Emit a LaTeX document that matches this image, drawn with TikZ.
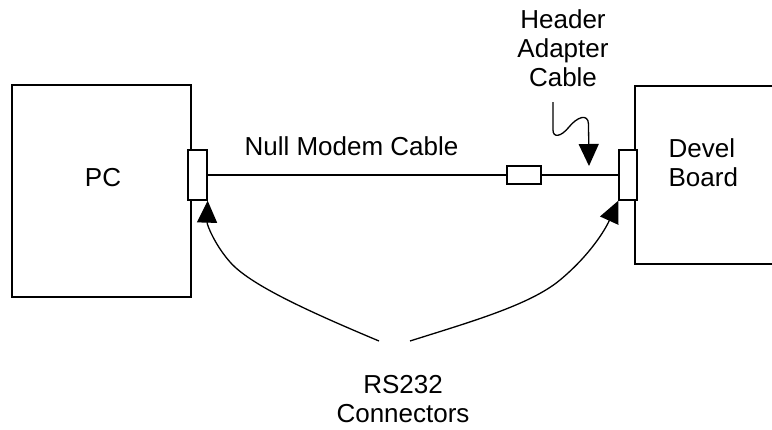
\documentclass[tikz,border=0pt]{standalone}
\usepackage{fontspec}
\setmainfont{Liberation Sans}
\usetikzlibrary{arrows.meta}
\begin{document}
\begin{tikzpicture}[x=1pt,y=-1pt,
  line width=1.3pt,
  box/.style={draw,rectangle,inner sep=0pt,line width=1.3pt},
  lbl/.style={inner sep=0pt,font=\fontsize{26}{29}\selectfont},
  pointer/.style={-{Triangle[length=22pt,width=20pt]},line width=1.3pt},
]
\useasboundingbox (0,0) rectangle (772,429);
% PC
\node[box,minimum width=179pt,minimum height=212pt] (pc) at (101.5,191) {};
\node[lbl] (pclbl) at (103,178) {PC};
% Devel board (extends beyond right edge)
\coordinate (dtr) at (772,86);
\coordinate (dtl) at (635,86);
\coordinate (dbl) at (635,264);
\coordinate (dbr) at (772,264);
\draw (dtr) -- (dtl) -- (dbl) -- (dbr);
\node[lbl,align=left,anchor=north west] (devlbl) at (668,138) {Devel\\Board};
% connectors
\node[box,fill=white,minimum width=19pt,minimum height=50pt] (pcconn) at (197.5,175) {};
\node[box,fill=white,minimum width=18pt,minimum height=50pt] (devconn) at (628,175) {};
\node[box,minimum width=34pt,minimum height=18pt] (adapter) at (524,175) {};
% cable
\draw (pcconn.east) -- (adapter.west);
\draw (adapter.east) -- (devconn.west);
\node[lbl,anchor=base] (nullm) at (351.5,155) {Null Modem Cable};
% header adapter label and pointer
\node[lbl,align=center,anchor=north] (hdr) at (563,9) {Header\\Adapter\\Cable};
\coordinate (hstart) at (553,102);
\coordinate (htip) at (589,166);
\draw[pointer] (hstart) -- (553,130) .. controls (553,138) and (561,137) .. (569,127)
   .. controls (577,117) and (588,113) .. (588.5,124) -- (htip);
% RS232 label and arrows
\node[lbl,align=center,anchor=north] (rs) at (403,375) {RS232\\Connectors};
\coordinate (ls) at (379,341);
\coordinate (rsrt) at (410,341);
\draw[pointer] (ls) .. controls (310,312) and (250,285) .. (230,262)
   .. controls (215,245) and (207,225) .. (pcconn.south east);
\draw[pointer] (rsrt) .. controls (470,322) and (530,305) .. (560,280)
   .. controls (590,255) and (605,230) .. (devconn.south west);
\end{tikzpicture}
\end{document}
